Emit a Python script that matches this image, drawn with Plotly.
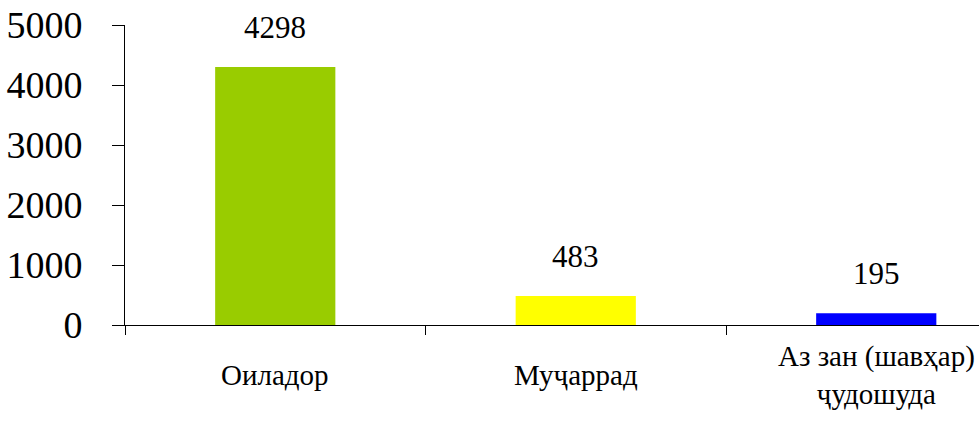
import plotly.graph_objects as go

categories = ["Оиладор", "Муҷаррад", "Аз зан (шавҳар)<br>ҷудошуда"]
values = [4298, 483, 195]
colors = ["#99CC00", "#FFFF00", "#0000FF"]
y_ticks = [0, 1000, 2000, 3000, 4000, 5000]

FONT = "Liberation Serif"

fig = go.Figure()
fig.add_trace(go.Bar(
    x=categories, y=values, marker_color=colors, marker_line_width=0,
    width=0.4, showlegend=False, hoverinfo="skip",
))

for c, v in zip(categories, values):
    fig.add_annotation(x=c, y=v, text=str(v), showarrow=False,
                       yanchor="middle", yshift=40,
                       font=dict(family=FONT, size=31, color="black"))
    fig.add_annotation(x=c, y=0, yref="paper", text=c, showarrow=False,
                       yanchor="middle", yshift=-50,
                       font=dict(family=FONT, size=29, color="black"))

W, H = 979, 424
left = 125
cat_px = 300.5
fig.update_layout(
    width=W, height=H,
    margin=dict(l=left, r=0, t=25, b=99, autoexpand=False),
    plot_bgcolor="white", paper_bgcolor="white",
    bargap=0.6,
    xaxis=dict(
        type="category", range=[-0.5, -0.5 + (W - left) / cat_px],
        showticklabels=False, tickson="boundaries", ticks="outside",
        ticklen=9, tickcolor="black", tickwidth=1, automargin=False,
        showline=True, linecolor="black", linewidth=1, showgrid=False,
        zeroline=False,
    ),
    yaxis=dict(
        range=[0, 5000], tickvals=y_ticks, ticks="outside", ticklen=12,
        tickcolor="black", tickwidth=1, showline=True, linecolor="black",
        linewidth=1, showgrid=False, zeroline=False, automargin=False,
        tickfont=dict(family=FONT, size=38, color="black"),
        ticklabelstandoff=22, ticklabeloverflow="allow",
    ),
)

fig.write_html(
    "out.html",
    config={"displayModeBar": False},
    post_script="document.body.style.margin='0px';document.body.style.overflow='hidden';",
)
